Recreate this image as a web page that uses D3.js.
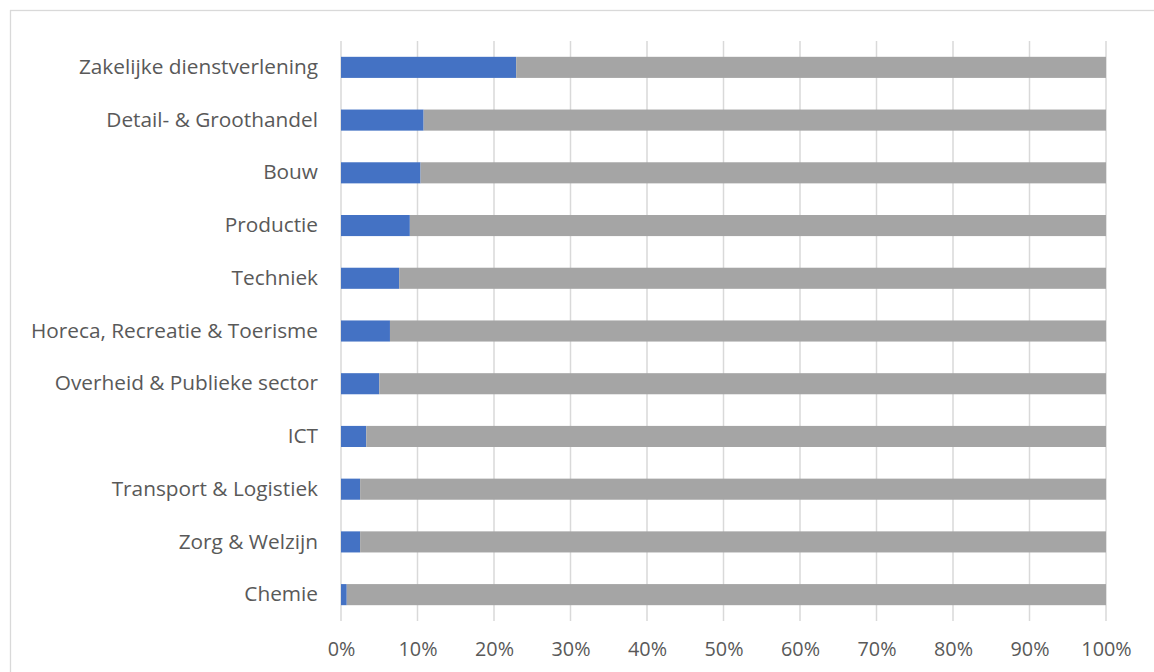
<!DOCTYPE html>
<html><head><meta charset="utf-8">
<script src="https://cdn.jsdelivr.net/npm/d3@7"></script>
<style>body{margin:0;background:#fff;} text{font-family:"Open Sans",sans-serif;fill:#595959;}</style>
</head><body>
<svg id="c" width="1154" height="672"></svg>
<script>
const categories = ["Zakelijke dienstverlening","Detail- & Groothandel","Bouw","Productie","Techniek","Horeca, Recreatie & Toerisme","Overheid & Publieke sector","ICT","Transport & Logistiek","Zorg & Welzijn","Chemie"];
const shareValues = [22.9,10.8,10.4,9.0,7.6,6.4,5.0,3.3,2.5,2.5,0.75];
const restValues = shareValues.map(v => 100 - v);
const tickValues = [0,10,20,30,40,50,60,70,80,90,100];

const svg = d3.select("#c");
svg.append("rect").attr("x",10.5).attr("y",10.5).attr("width",1160).attr("height",680)
  .attr("fill","#fff").attr("stroke","#d9d9d9").attr("stroke-width",1.3);

const x = d3.scaleLinear().domain([0,100]).range([341,1106]);
const y = d3.scaleBand().domain(categories).range([41,621]).paddingInner(0.6).paddingOuter(0.3);

const grid = svg.append("g");
grid.selectAll("line").data(tickValues).join("line")
  .attr("x1",d=>x(d)).attr("x2",d=>x(d)).attr("y1",41).attr("y2",621)
  .attr("stroke","#d9d9d9").attr("stroke-width",1.5);

const rows = categories.map((c,i)=>({c, a:shareValues[i], b:restValues[i]}));
svg.append("g").selectAll("rect").data(rows).join("rect")
  .attr("x",x(0)).attr("y",d=>y(d.c)).attr("height",y.bandwidth())
  .attr("width",d=>x(d.a)-x(0)).attr("fill","#4472c4");
svg.append("g").selectAll("rect").data(rows).join("rect")
  .attr("x",d=>x(d.a)).attr("y",d=>y(d.c)).attr("height",y.bandwidth())
  .attr("width",d=>x(d.a+d.b)-x(d.a)).attr("fill","#a5a5a5");

const yAxis = svg.append("g").attr("transform","translate(341,0)")
  .call(d3.axisLeft(y).tickSize(0).tickPadding(23));
yAxis.select(".domain").remove();
yAxis.selectAll("text").style("font-size","20.8px").attr("fill","#595959").attr("font-family","Open Sans");

const xAxis = svg.append("g").attr("transform","translate(0,621)")
  .call(d3.axisBottom(x).tickValues(tickValues).tickFormat(d=>d+"%").tickSize(0).tickPadding(21));
xAxis.select(".domain").remove();
xAxis.selectAll("text").style("font-size","19.8px").attr("fill","#595959").attr("font-family","Open Sans");
</script>
</body></html>
